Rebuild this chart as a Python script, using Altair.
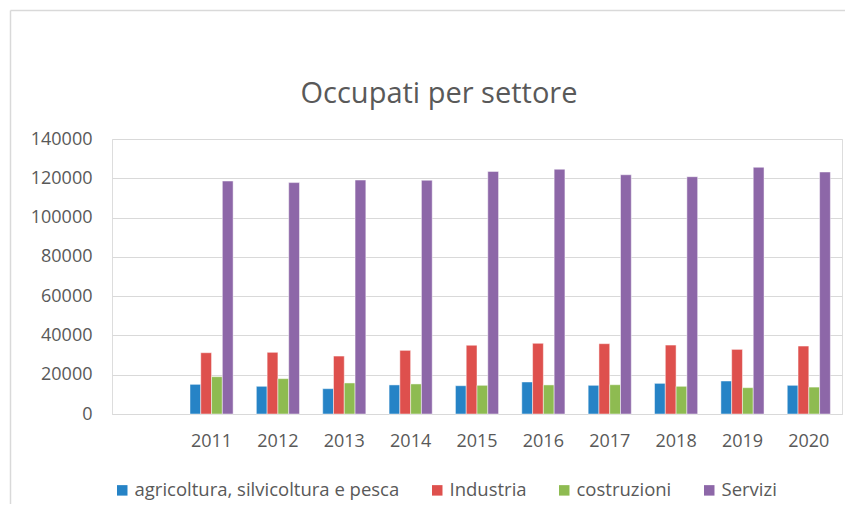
import altair as alt
import pandas as pd

years = ["", "2011", "2012", "2013", "2014", "2015", "2016", "2017", "2018", "2019", "2020"]
data_years = ["2011", "2012", "2013", "2014", "2015", "2016", "2017", "2018", "2019", "2020"]
series = ["agricoltura, silvicoltura e pesca", "Industria", "costruzioni", "Servizi"]
agricoltura = [15100, 14100, 12900, 14800, 14400, 16300, 14600, 15600, 16800, 14600]
industria = [31200, 31400, 29500, 32400, 35000, 36000, 35800, 35100, 32900, 34600]
costruzioni = [19000, 18000, 15800, 15300, 14600, 14800, 14900, 14100, 13400, 13700]
servizi = [118600, 117800, 119100, 119000, 123500, 124600, 121800, 120800, 125600, 123200]
colors = ["#2683C6", "#DE504D", "#8EBB51", "#8D67A8"]
y_ticks = [0, 20000, 40000, 60000, 80000, 100000, 120000, 140000]
title_text = "Occupati per settore"

rows = []
for name, vals in zip(series, [agricoltura, industria, costruzioni, servizi]):
    for y, v in zip(data_years, vals):
        rows.append({"anno": y, "settore": name, "valore": v})
df = pd.DataFrame(rows)

FONT = "Open Sans"
TXT = "#595959"

bars = alt.Chart(df).mark_bar(stroke="white", strokeWidth=0.8, strokeOpacity=0.6).encode(
    x=alt.X("anno:N", scale=alt.Scale(domain=years, paddingInner=0.35, paddingOuter=0.175),
            axis=alt.Axis(title=None, labelAngle=0, ticks=False, domainColor="#D9D9D9",
                          labelFontSize=18, labelColor=TXT, labelFont=FONT, labelPadding=18)),
    xOffset=alt.XOffset("settore:N", sort=series, scale=alt.Scale(domain=series, paddingInner=0, paddingOuter=0)),
    y=alt.Y("valore:Q", scale=alt.Scale(domain=[0, 140000], nice=False),
            axis=alt.Axis(title=None, values=y_ticks, format="d", ticks=False, domain=False,
                          gridColor="#D9D9D9", labelFontSize=18, labelColor=TXT, labelFont=FONT,
                          labelPadding=20)),
    color=alt.Color("settore:N", sort=series, scale=alt.Scale(domain=series, range=colors),
                    legend=alt.Legend(title=None, orient="none", direction="horizontal",
                                      legendX=1, legendY=342, symbolType="square", symbolSize=110,
                                      symbolStrokeWidth=0, labelFontSize=18.5, labelColor=TXT,
                                      labelFont=FONT, columnPadding=28, labelOffset=3,
                                      labelLimit=0, symbolOpacity=1)),
)

frame_left = alt.Chart(pd.DataFrame({"a": [0]})).mark_rule(color="#D9D9D9", strokeWidth=1.5).encode(
    x=alt.value(-101.5), y=alt.value(-128.5), y2=alt.value(420))
frame_top = alt.Chart(pd.DataFrame({"a": [0]})).mark_rule(color="#D9D9D9", strokeWidth=1.5).encode(
    x=alt.value(-101.5), x2=alt.value(760), y=alt.value(-128.5))

title = alt.Chart(pd.DataFrame({"t": [title_text]})).mark_text(
    font=FONT, fontSize=29, color=TXT, align="center", baseline="middle").encode(
    text="t:N", x=alt.value(327), y=alt.value(-45))

chart = alt.layer(frame_left, frame_top, title, bars).properties(
    width=730, height=275,
    autosize=alt.AutoSizeParams(type="none"),
    padding={"left": 104, "top": 131, "right": 3, "bottom": 90},
).configure_view(stroke=None).configure(background="white")

chart.save("out.html", embed_options={"renderer": "svg", "actions": False})
